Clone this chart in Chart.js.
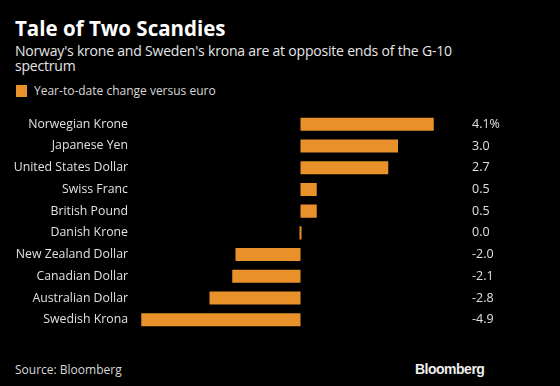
<!DOCTYPE html>
<html>
<head>
<meta charset="utf-8">
<script src="https://cdn.jsdelivr.net/npm/chart.js@4.4.1/dist/chart.umd.min.js"></script>
<style>
  html, body { margin:0; padding:0; background:#000; }
  body { width:560px; height:386px; position:relative; overflow:hidden; font-family:"Open Sans", sans-serif; color:#e6e6e6; }
  #title { position:absolute; left:15px; top:14px; font-size:20.5px; font-weight:bold; color:#fff; }
  #sub { position:absolute; left:15px; top:44px; width:520px; font-size:14px; line-height:14.5px; color:#e6e6e6; letter-spacing:-0.2px; }
  #legend { position:absolute; left:16px; top:82px; font-size:12px; color:#d8d8d8; }
  #legend span.sw { display:inline-block; width:11px; height:12px; background:#e8912a; vertical-align:-2px; margin-right:7px; }
  #source { position:absolute; left:15px; top:361px; font-size:12px; color:#d8d8d8; }
  #logo { position:absolute; left:415px; top:361px; font-size:14px; font-weight:bold; color:#eee; letter-spacing:-0.5px; font-family:"Liberation Sans", Arial, sans-serif; }
  #wrap { position:absolute; left:0; top:96px; width:560px; height:252px; }
</style>
</head>
<body>
<div id="title">Tale of Two Scandies</div>
<div id="sub">Norway's krone and Sweden's krona are at opposite ends of the G-10<br>spectrum</div>
<div id="legend"><span class="sw"></span>Year-to-date change versus euro</div>
<div id="source">Source: Bloomberg</div>
<div id="logo">Bloomberg</div>
<div id="wrap"><canvas id="c" width="560" height="252"></canvas></div>
<script>
const categories = ["Norwegian Krone","Japanese Yen","United States Dollar","Swiss Franc","British Pound","Danish Krone","New Zealand Dollar","Canadian Dollar","Australian Dollar","Swedish Krona"];
const values = [4.1, 3.0, 2.7, 0.5, 0.5, 0.0, -2.0, -2.1, -2.8, -4.9];
const valueLabels = ["4.1%","3.0","2.7","0.5","0.5","0.0","-2.0","-2.1","-2.8","-4.9"];

const BAR = '#e8912a';
const valuePlugin = {
  id: 'valueCol',
  afterDatasetsDraw(chart) {
    const ctx = chart.ctx;
    const meta = chart.getDatasetMeta(0);
    ctx.save();
    ctx.fillStyle = '#e0e0e0';
    ctx.font = '12.5px "Open Sans", sans-serif';
    ctx.textBaseline = 'middle';
    ctx.textAlign = 'left';
    meta.data.forEach((bar, i) => {
      ctx.fillText(valueLabels[i], chart.chartArea.right + 22, bar.y);
    });
    ctx.restore();
  }
};

new Chart(document.getElementById('c'), {
  type: 'bar',
  data: {
    labels: categories,
    datasets: [{
      data: values,
      backgroundColor: BAR,
      borderWidth: 0,
      barPercentage: 0.6,
      categoryPercentage: 1,
      minBarLength: 2
    }]
  },
  options: {
    indexAxis: 'y',
    responsive: false,
    animation: false,
    devicePixelRatio: 1,
    layout: { padding: { left: 0, right: 110, top: 0, bottom: 0 } },
    plugins: { legend: { display: false }, tooltip: { enabled: false } },
    scales: {
      x: { display: false, min: -5, max: 4.6 },
      y: {
        grid: { display: false, drawTicks: false },
        border: { display: false },
        ticks: { color: '#e0e0e0', font: { size: 12.3, family: '"Open Sans", sans-serif' }, padding: 10 },
        afterFit(scale) { scale.width = 138; }
      }
    }
  },
  plugins: [valuePlugin]
});
</script>
</body>
</html>
